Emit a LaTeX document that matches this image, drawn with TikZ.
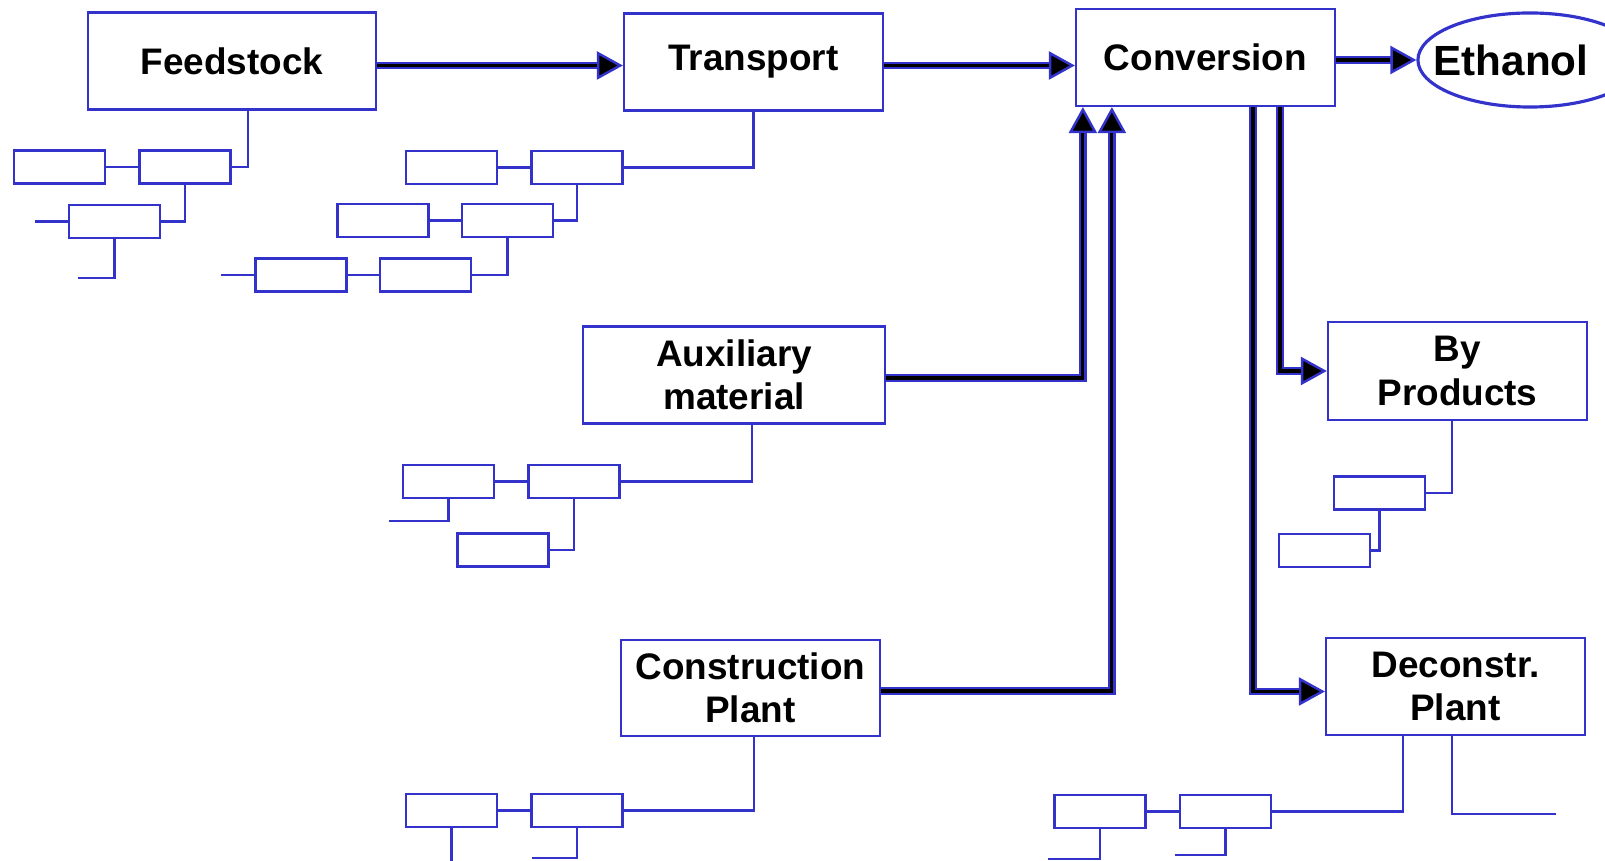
\documentclass[tikz,border=0pt]{standalone}
\usepackage{fontspec}
\setmainfont{Liberation Sans}
\usepackage{tikz}
\usetikzlibrary{arrows.meta, positioning, shapes.geometric}
\definecolor{lineblue}{RGB}{51,51,204}

\begin{document}
\begin{tikzpicture}[
    x=0.01cm, y=-0.01cm,
    stage/.style={draw=lineblue, line width=0.6pt, minimum width=2.59cm, minimum height=0.97cm, inner sep=0pt, align=center, font=\fontsize{10.5}{12.3}\selectfont\bfseries},
    sbox/.style={draw=lineblue, line width=0.7pt, minimum width=0.91cm, minimum height=0.33cm, inner sep=0pt},
    link/.style={draw=lineblue, line width=0.65pt},
    flow/.style={draw=lineblue, line width=2.1pt, -{Triangle[length=0.26cm, width=0.28cm, fill=black, line width=0.7pt]},
        postaction={draw=black, line width=0.9pt, -, shorten >=0.26cm}},
]
\useasboundingbox (0,0) rectangle (1605,861);

% Row 1: main chain
\node[stage, minimum width=2.88cm] (feed) at (232,61) {Feedstock};
\node[stage] (trans) at (753.5,62) {Transport};
\node[stage] (conv) at (1205.5,57.5) {Conversion};
\node[draw=lineblue, line width=0.9pt, ellipse, minimum width=2.24cm, minimum height=0.94cm, inner sep=0pt,
      font=\fontsize{12}{14}\selectfont\bfseries] (eth) at (1530,60) {\hspace*{-0.38cm}Ethanol};

% Inputs and outputs of the conversion
\node[stage, minimum width=3.02cm] (aux) at (734,375) {Auxiliary\\material};
\node[stage, minimum height=0.96cm] (con) at (750.5,688) {Construction\\Plant};
\node[stage, minimum height=0.98cm] (byp) at (1457.5,371) {By\\Products};
\node[stage] (dec) at (1455.5,686.5) {Deconstr.\\Plant};

\draw[flow] ([yshift=-0.045cm]feed.east) -- ([yshift=-0.045cm]feed.east -| trans.west);
\draw[flow] ([yshift=-0.035cm]trans.east) -- ([yshift=-0.035cm]trans.east -| conv.west);
\draw[flow] (conv.east |- eth.west) -- (eth.west);
\draw[flow] ([yshift=-0.03cm]aux.east) -| ([xshift=0.08cm]conv.south west);
\draw[flow] ([yshift=-0.03cm]con.east) -| ([xshift=0.37cm]conv.south west);
\draw[flow] ([xshift=2.05cm]conv.south west) |- (byp.west);
\draw[flow] ([xshift=1.78cm]conv.south west) |- ([yshift=-0.05cm]dec.west);

% Feedstock detail
\node[sbox] (a1) at (59.5,167) {};
\node[sbox, right=0.32cm of a1] (a2) {};
\node[sbox] (a3) at (114.5,221.5) {};

\draw[link] ([xshift=0.16cm]feed.south) |- (a2.east);
\draw[link] (a1) -- (a2);
\draw[link] (a2.south) |- (a3.east);
\draw[link] (a3.west) -- ++(-33,0);
\draw[link] (a3.south) |- ++(-37,39);

% Transport detail
\node[sbox] (b1) at (451.5,167.5) {};
\node[sbox, right=0.32cm of b1] (b2) {};
\node[sbox] (b3) at (383,220.5) {};
\node[sbox, right=0.31cm of b3] (b4) {};
\node[sbox] (b5) at (301,275) {};
\node[sbox, right=0.31cm of b5] (b6) {};

\draw[link] (trans.south) |- (b2.east);
\draw[link] (b1) -- (b2);
\draw[link] (b2.south) |- (b4.east);
\draw[link] (b3) -- (b4);
\draw[link] (b4.south) |- (b6.east);
\draw[link] (b5) -- (b6);
\draw[link] (b5.west) -- ++(-33,0);

% Auxiliary material detail
\node[sbox] (c1) at (448.5,481.5) {};
\node[sbox, right=0.32cm of c1] (c2) {};
\node[sbox] (c3) at (503,550) {};

\draw[link] ([xshift=0.18cm]aux.south) |- (c2.east);
\draw[link] (c1) -- (c2);
\draw[link] (c1.south) |- ++(-60,22);
\draw[link] (c2.south) |- (c3.east);

% Construction detail
\node[sbox] (d1) at (451.5,810.5) {};
\node[sbox, right=0.32cm of d1] (d2) {};

\draw[link] ([xshift=0.035cm]con.south) |- (d2.east);
\draw[link] (d1) -- (d2);
\draw[link] (d1.south) -- ++(0,40);
\draw[link] (d2.south) |- ++(-45,30);

% By products detail
\node[sbox] (f1) at (1379.5,493) {};
\node[sbox] (f2) at (1324.5,550.5) {};

\draw[link] ([xshift=-0.055cm]byp.south) |- (f1.east);
\draw[link] (f1.south) |- (f2.east);

% Deconstruction detail
\node[sbox] (e1) at (1100,811.5) {};
\node[sbox, right=0.32cm of e1] (e2) {};

\draw[link] ([xshift=-0.525cm]dec.south) |- (e2.east);
\draw[link] (e1) -- (e2);
\draw[link] (e1.south) |- ++(-52,30);
\draw[link] (e2.south) |- ++(-51,26);
\draw[link] ([xshift=-0.035cm]dec.south) |- ++(104,78);

\end{tikzpicture}
\end{document}
